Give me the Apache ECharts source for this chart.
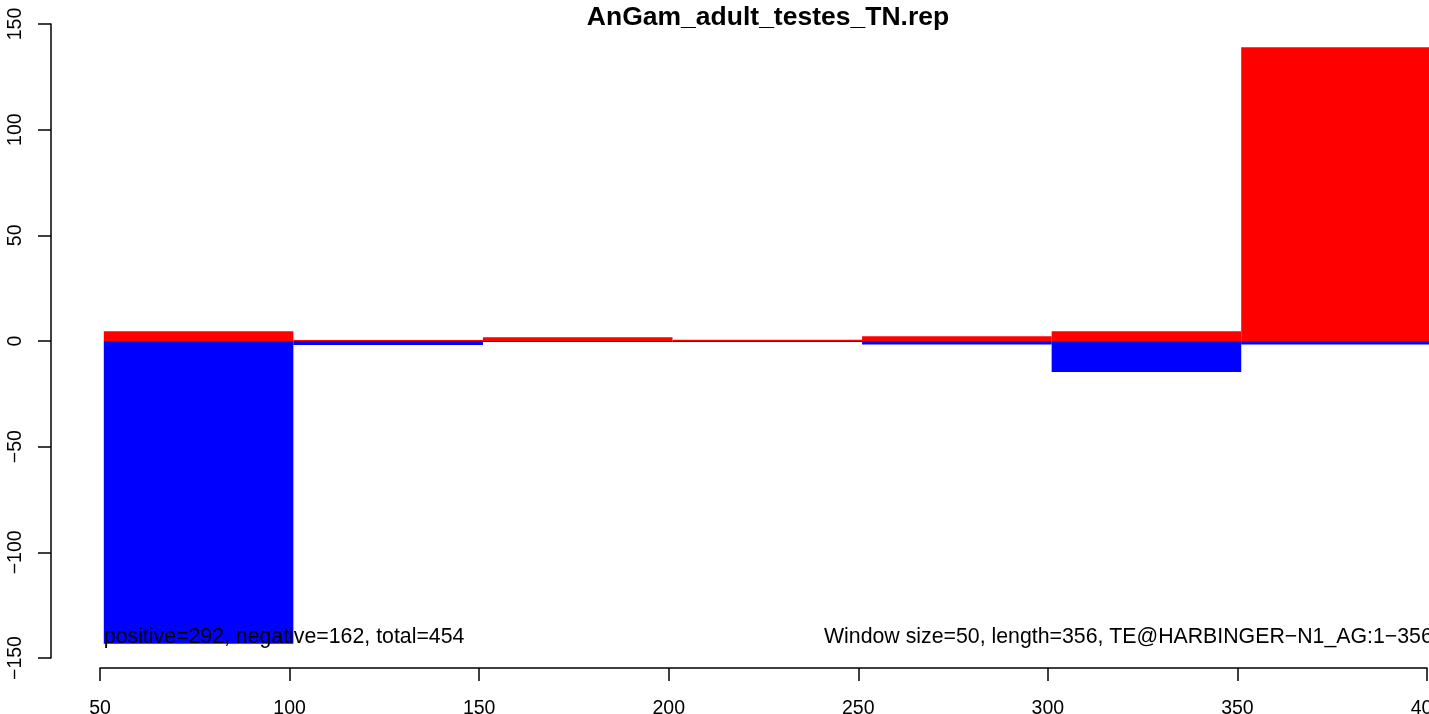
<!DOCTYPE html>
<html><head><meta charset="utf-8">
<script src="https://cdn.jsdelivr.net/npm/echarts@6/dist/echarts.min.js"></script>
<style>html,body{margin:0;padding:0;background:#fff;overflow:hidden}#c{width:1429px;height:714px}</style>
</head><body><div id="c"></div>
<script>
// ---- data ----
const binStart = [51, 101, 151, 201, 251, 301, 351];
const binEnd   = [101, 151, 201, 251, 301, 351, 401];
const positiveValues = [4.6, 0.5, 1.8, 0.6, 2.2, 4.6, 139];
const negativeValues = [-143.3, -1.9, -0.5, -0.5, -1.6, -14.7, -1.6];
const xTicks = [50, 100, 150, 200, 250, 300, 350, 400];
const yTicks = [-150, -100, -50, 0, 50, 100, 150];
const titleText = 'AnGam_adult_testes_TN.rep';
const leftNote = 'positive=292, negative=162, total=454';
const rightNote = 'Window size=50, length=356, TE@HARBINGER\u2212N1_AG:1\u2212356';

const FONT = '"Liberation Sans", Arial, sans-serif';
const chart = echarts.init(document.getElementById('c'), null, {renderer: 'canvas'});

function rectItem(params, api) {
  const a = api.coord([api.value(0), 0]);
  const b = api.coord([api.value(1), api.value(2)]);
  return {
    type: 'rect',
    shape: {x: a[0], y: Math.min(a[1], b[1]), width: b[0] - a[0], height: Math.abs(b[1] - a[1])},
    style: {fill: api.visual('color')}
  };
}
const fmt = v => (v < 0 ? '\u2212' + Math.abs(v) : String(v));

chart.setOption({
  animation: false,
  backgroundColor: '#ffffff',
  title: {
    text: titleText, left: 763, top: -1, textAlign: 'center',
    textStyle: {fontFamily: FONT, fontWeight: 'bold', fontSize: 26.5, color: '#000'}
  },
  grid: {left: 100, right: 2, top: 24, bottom: 56, containLabel: false, outerBoundsMode: 'none'},
  xAxis: {
    type: 'value', min: xTicks[0], max: xTicks[xTicks.length - 1], interval: 50,
    offset: 10,
    axisLine: {show: true, onZero: false, lineStyle: {color: '#000', width: 1.5}},
    axisTick: {show: true, length: 13, lineStyle: {color: '#000', width: 1.5}},
    axisLabel: {color: '#000', fontFamily: FONT, fontSize: 19.5, margin: 31, showMinLabel: true, showMaxLabel: true, hideOverlap: false},
    splitLine: {show: false}
  },
  yAxis: {
    type: 'value', min: yTicks[0], max: yTicks[yTicks.length - 1], interval: 50,
    offset: 49,
    axisLine: {show: true, onZero: false, lineStyle: {color: '#000', width: 1.5}},
    axisTick: {show: true, length: 13, lineStyle: {color: '#000', width: 1.5}},
    axisLabel: {color: '#000', fontFamily: FONT, fontSize: 19.5, margin: 25, rotate: 90, formatter: fmt, showMinLabel: true, showMaxLabel: true, hideOverlap: false},
    splitLine: {show: false}
  },
  series: [
    {type: 'custom', name: 'positive', color: '#ff0000', clip: false, renderItem: rectItem,
     data: binStart.map((s, i) => [s, binEnd[i], positiveValues[i]])},
    {type: 'custom', name: 'negative', color: '#0000ff', clip: false, renderItem: rectItem,
     data: binStart.map((s, i) => [s, binEnd[i], negativeValues[i]])}
  ]
});

const pL = chart.convertToPixel({gridIndex: 0}, [binStart[0], yTicks[0]]);
chart.setOption({
  graphic: [
    {type: 'text', left: pL[0], top: 627, z: 100,
     style: {text: leftNote, fontFamily: FONT, fontSize: 21.3, fill: '#000'}},
    {type: 'text', left: 824, top: 627, z: 100,
     style: {text: rightNote, fontFamily: FONT, fontSize: 21.3, fill: '#000'}}
  ]
});
</script>
</body></html>
